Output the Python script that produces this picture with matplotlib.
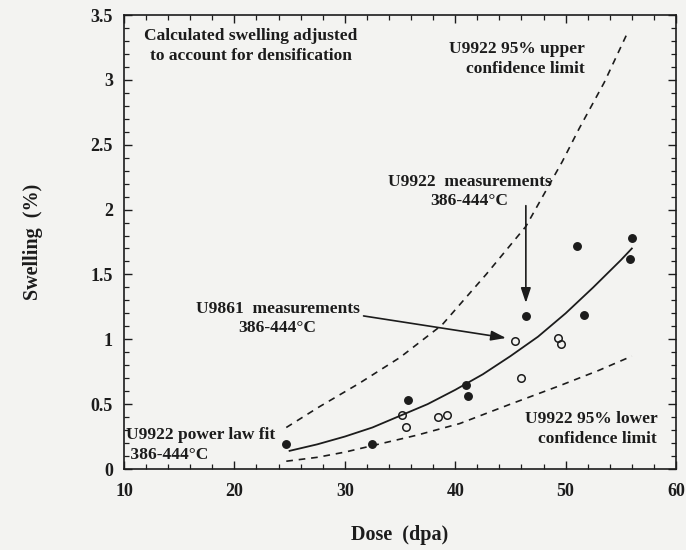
import matplotlib
matplotlib.use("Agg")
import matplotlib.pyplot as plt
from matplotlib.ticker import MultipleLocator, FormatStrFormatter

# U9922 measurements (filled circles)
u9922_dose = [24.7, 32.5, 35.7, 41.0, 41.2, 46.4, 51.0, 51.7, 55.8, 56.0]
u9922_swell = [0.19, 0.19, 0.53, 0.65, 0.56, 1.18, 1.72, 1.19, 1.62, 1.78]

# U9861 measurements (open circles)
u9861_dose = [35.2, 35.5, 38.4, 39.3, 45.4, 46.0, 49.3, 49.6]
u9861_swell = [0.42, 0.32, 0.40, 0.42, 0.99, 0.70, 1.01, 0.96]

# U9922 power law fit
fit_dose = [25, 27.5, 30, 32.5, 35, 37.5, 40, 42.5, 45, 47.5, 50, 52.5, 55, 56]
fit_swell = [0.14, 0.19, 0.25, 0.32, 0.41, 0.50, 0.61, 0.73, 0.87, 1.02, 1.20, 1.40, 1.61, 1.70]

# U9922 95% upper confidence limit (dashed)
upper_dose = [24.7, 27.7, 31.3, 35.0, 38.8, 42.8, 46.4, 49.7, 51.2, 53.5, 55.7]
upper_swell = [0.32, 0.48, 0.66, 0.86, 1.11, 1.50, 1.87, 2.37, 2.62, 2.98, 3.38]

# U9922 95% lower confidence limit (dashed)
lower_dose = [24.7, 27.5, 30.0, 33.0, 36.5, 40.4, 45.0, 49.4, 53.0, 56.0]
lower_swell = [0.06, 0.09, 0.13, 0.19, 0.26, 0.35, 0.50, 0.64, 0.76, 0.87]

xticks = [10, 20, 30, 40, 50, 60]
yticks = [0, 0.5, 1, 1.5, 2, 2.5, 3, 3.5]

ink = "#1c1c1c"
bg = "#f3f3f1"
serif = ["Liberation Serif", "DejaVu Serif"]
plt.rcParams["font.family"] = serif
plt.rcParams["font.weight"] = "bold"

fig = plt.figure(figsize=(6.86, 5.5), dpi=100, facecolor=bg)
ax = fig.add_axes([124 / 686, 1 - 469 / 550, (676 - 124) / 686, (469 - 15) / 550])
ax.set_facecolor(bg)

ax.plot(fit_dose, fit_swell, color=ink, lw=1.3)
ax.plot(upper_dose, upper_swell, color=ink, lw=1.2, dashes=(4, 3.5))
ax.plot(lower_dose, lower_swell, color=ink, lw=1.2, dashes=(4, 3.5))
ax.plot(u9922_dose, u9922_swell, "o", color=ink, ms=5.4, ls="none")
ax.plot(u9861_dose, u9861_swell, "o", mfc="none", mec=ink, mew=1.1, ms=5.4, ls="none")

ax.set_xlim(10, 60)
ax.set_ylim(0, 3.5)
ax.set_xticks(xticks)
ax.set_yticks(yticks)
ax.xaxis.set_minor_locator(MultipleLocator(2))
ax.yaxis.set_minor_locator(MultipleLocator(0.1))
ax.yaxis.set_major_formatter(FormatStrFormatter("%g"))
ax.tick_params(which="both", direction="in", top=True, right=True, color=ink)
ax.tick_params(which="major", length=6, width=1.0)
ax.tick_params(which="minor", length=3.5, width=0.9)
ax.tick_params(axis="x", which="major", pad=10, labelsize=13, labelcolor=ink)
ax.tick_params(axis="y", which="major", pad=8, labelsize=13, labelcolor=ink)
for lab in ax.get_xticklabels() + ax.get_yticklabels():
    lab.set_fontweight("bold")
for s in ax.spines.values():
    s.set_color(ink)
    s.set_linewidth(1.2)

ax.set_xlabel("Dose  (dpa)", fontsize=14.5, fontweight="bold", color=ink, labelpad=18)
ax.set_ylabel("Swelling  (%)", fontsize=14.5, fontweight="bold", color=ink, labelpad=34)

tk = dict(fontsize=12.5, fontweight="bold", color=ink, linespacing=1.3)
ax.text(21.5, 3.26, "Calculated swelling adjusted\nto account for densification",
        ha="center", va="center", multialignment="center", **tk)
ax.text(51.75, 3.16, "U9922 95% upper\nconfidence limit",
        ha="right", va="center", multialignment="right", **tk)
ax.text(41.3, 2.14, "U9922  measurements\n386-444°C",
        ha="center", va="center", multialignment="center", **tk)
ax.text(23.9, 1.16, "U9861  measurements\n386-444°C",
        ha="center", va="center", multialignment="center", **tk)
ax.text(10.15, 0.185, "U9922 power law fit\n 386-444°C",
        ha="left", va="center", multialignment="left", **tk)
ax.text(58.3, 0.31, "U9922 95% lower\nconfidence limit",
        ha="right", va="center", multialignment="right", **tk)

ap = dict(arrowstyle="-|>,head_length=0.9,head_width=0.3", color=ink, lw=1.2, shrinkA=0, shrinkB=0)
ax.annotate("", xy=(46.4, 1.28), xytext=(46.4, 2.03), arrowprops=ap)
ax.annotate("", xy=(44.6, 1.01), xytext=(31.7, 1.18), arrowprops=ap)

fig.savefig("out.png", dpi=100, facecolor=bg)
